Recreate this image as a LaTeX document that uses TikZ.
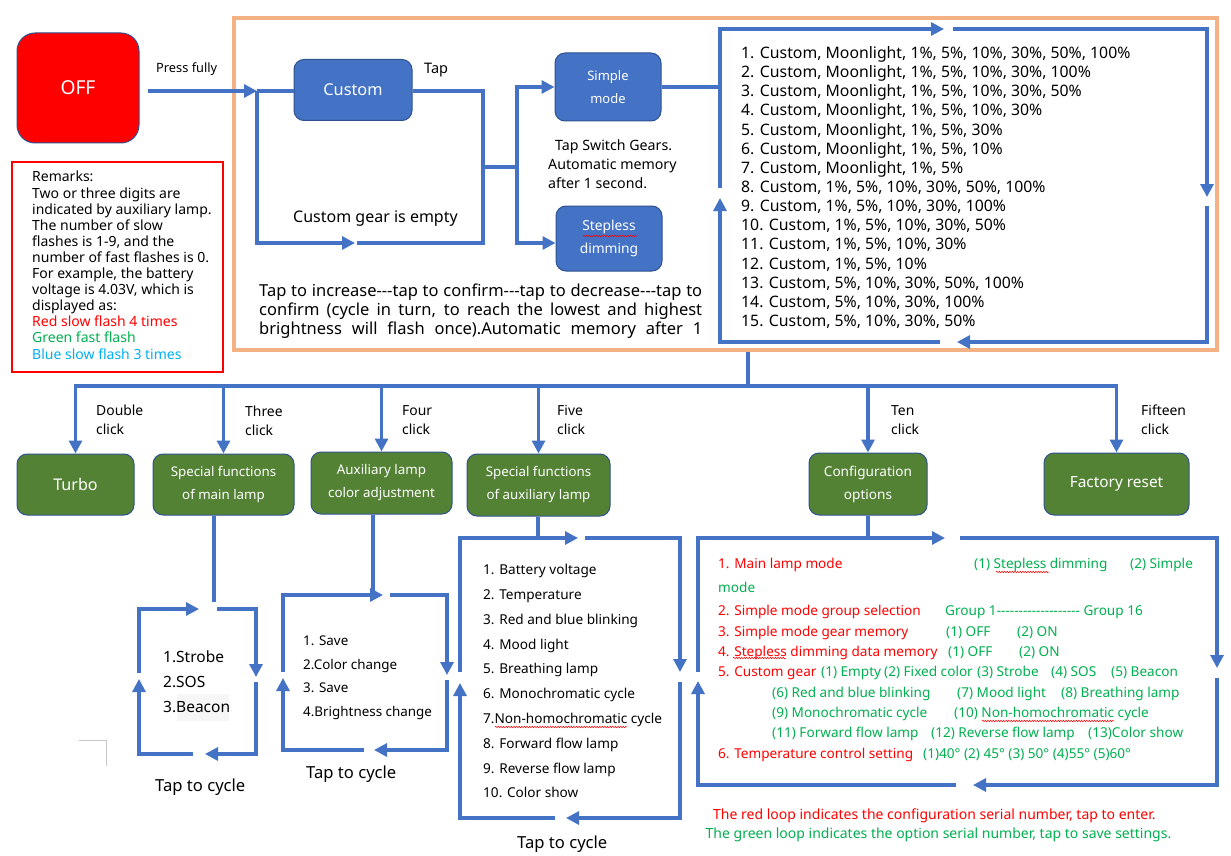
\documentclass[tikz,border=0pt]{standalone}
\usepackage{fontspec}
\setmainfont{Noto Sans}
\usetikzlibrary{arrows.meta,decorations.pathmorphing}
\definecolor{lb}{HTML}{4472C4}
\definecolor{bb}{HTML}{2F528F}
\definecolor{gf}{HTML}{548235}
\definecolor{org}{HTML}{F4B183}
\definecolor{tg}{HTML}{00B050}
\definecolor{tb}{HTML}{00B0F0}
\definecolor{rd}{HTML}{FF0000}
\newcommand{\fsz}[2]{\fontsize{#1}{#2}\selectfont}
\begin{document}
\begin{tikzpicture}[x=1pt,y=-1pt,
 ln/.style={draw=lb,line width=3.1pt},
 arr/.style={ln,-{Triangle[length=13pt,width=13pt]}},
 bluebox/.style={draw=bb,line width=1pt,fill=lb,rounded corners=10pt,text=white,align=center,inner sep=0pt},
 greenbox/.style={draw=bb,line width=1pt,fill=gf,rounded corners=10pt,text=white,align=center,inner sep=0pt},
 txt/.style={inner sep=0pt,anchor=base west,font=\fsz{#1}{#1},yshift={-0.35*#1pt}},
 wavy/.style={draw=rd,line width=0.5pt,decorate,decoration={snake,amplitude=0.8pt,segment length=2.6pt}}]
\useasboundingbox[fill=white] (0,0) rectangle (1231,856);

% ---------- top part ----------
\node[draw=bb,line width=1pt,fill=rd,rounded corners=18pt,minimum width=122pt,minimum height=110pt,text=white,font=\fsz{19.2}{23},inner sep=0pt] (off) at (78,88) {OFF};
\node[txt=12.8] (pf) at (156,68) {Press fully};
\node[draw=org,line width=3.4pt,minimum width=983pt,minimum height=332pt,inner sep=0pt] (frame) at (725.5,184) {};
\node[draw=rd,line width=2.6pt,minimum width=211pt,minimum height=210pt,inner sep=0pt] (rem) at (117.5,267) {};
\node[txt=14] (r0) at (32,177) {Remarks:};
\node[txt=14] (r1) at (32,193.1) {Two or three digits are};
\node[txt=14] (r2) at (32,209.2) {indicated by auxiliary lamp.};
\node[txt=14] (r3) at (32,225.3) {The number of slow};
\node[txt=14] (r4) at (32,241.4) {flashes is 1-9, and the};
\node[txt=14] (r5) at (32,257.5) {number of fast flashes is 0.};
\node[txt=14] (r6) at (32,273.6) {For example, the battery};
\node[txt=14] (r7) at (32,289.7) {voltage is 4.03V, which is};
\node[txt=14] (r8) at (32,305.8) {displayed as:};
\node[txt=14,text=rd] (r9) at (32,321.9) {Red slow flash 4 times};
\node[txt=14,text=tg] (r10) at (32,338) {Green fast flash};
\node[txt=14,text=tb] (r11) at (32,354.1) {Blue slow flash 3 times};

\node[bluebox,minimum width=118pt,minimum height=61pt,font=\fsz{16.3}{19}] (custom) at (353,90) {Custom};
\node[txt=14.5] (tap) at (424,68) {Tap};
\node[bluebox,minimum width=106pt,minimum height=68pt,font=\fsz{13}{23}] (simple) at (608,87) {Simple\\mode};
\node[bluebox,minimum width=106pt,minimum height=65pt,font=\fsz{13.8}{23}] (stepless) at (609,238.5) {Stepless\\dimming};
\draw[wavy] (583,236) -- (637,236);
\node[txt=14.2] (g1) at (555,146) {Tap Switch Gears.};
\node[txt=14.2] (g2) at (548,165) {Automatic memory};
\node[txt=14.2] (g3) at (548,184) {after 1 second.};
\node[txt=16] (empty) at (293,217) {Custom gear is empty};
\node[txt=16.5] (p1) at (259,291) {\makebox[443pt][s]{Tap to increase-{}-{}-tap to confirm-{}-{}-tap to decrease-{}-{}-tap to}};
\node[txt=16.5] (p2) at (259,310) {\makebox[443pt][s]{confirm (cycle in turn, to reach the lowest and highest}};
\node[txt=16.5] (p3) at (259,329) {\makebox[443pt][s]{brightness will flash once).Automatic memory after 1}};

\coordinate (j0) at (257,91);
\draw[arr] ([xshift=8pt]off.east |- j0) -- (j0);
\draw[ln] (j0) -- (custom.west |- j0);
\coordinate (cr) at (483,91);
\coordinate (cb) at (483,243);
\coordinate (lb0) at (257,243);
\draw[ln] (custom.east |- cr) -- (cr) -- (cb) -- (357,243);
\draw[arr] (j0) -- (lb0) -- (355,243);
\coordinate (jm) at (483,167);
\coordinate (jv) at (517,167);
\draw[ln] (jm) -- (jv);
\draw[arr] (jv) |- (simple.west);
\draw[arr] (jv) |- ([yshift=-4.5pt]stepless.west);

% list loop
\coordinate (ll) at (720,87);
\draw[ln] (simple.east) -- (ll);
\draw[arr] (720,188) -- (720,29) -- (944,29);
\draw[arr] (953,29) -- (1207,29) -- (1207,197);
\draw[arr] (1207,206) -- (1207,342) -- (957,342);
\draw[arr] (940,342) -- (720,342) -- (720,198);
\foreach \t [count=\i from 0] in {
 {1. Custom, Moonlight, 1\%, 5\%, 10\%, 30\%, 50\%, 100\%},
 {2. Custom, Moonlight, 1\%, 5\%, 10\%, 30\%, 100\%},
 {3. Custom, Moonlight, 1\%, 5\%, 10\%, 30\%, 50\%},
 {4. Custom, Moonlight, 1\%, 5\%, 10\%, 30\%},
 {5. Custom, Moonlight, 1\%, 5\%, 30\%},
 {6. Custom, Moonlight, 1\%, 5\%, 10\%},
 {7. Custom, Moonlight, 1\%, 5\%},
 {8. Custom, 1\%, 5\%, 10\%, 30\%, 50\%, 100\%},
 {9. Custom, 1\%, 5\%, 10\%, 30\%, 100\%},
 {10. Custom, 1\%, 5\%, 10\%, 30\%, 50\%},
 {11. Custom, 1\%, 5\%, 10\%, 30\%},
 {12. Custom, 1\%, 5\%, 10\%},
 {13. Custom, 5\%, 10\%, 30\%, 50\%, 100\%},
 {14. Custom, 5\%, 10\%, 30\%, 100\%},
 {15. Custom, 5\%, 10\%, 30\%, 50\%}}
 \node[txt=15.8] (li\i) at (741,{53+19.14*\i}) {\t};

% ---------- bus ----------
\node[greenbox,minimum width=117pt,minimum height=61pt,font=\fsz{16.1}{19}] (turbo) at (75.5,484.5) {Turbo};
\node[greenbox,minimum width=141pt,minimum height=61pt,font=\fsz{13.3}{23}] (smain) at (223.5,484.5) {Special functions\\of main lamp};
\node[greenbox,minimum width=141pt,minimum height=62pt,font=\fsz{13.35}{23}] (auxc) at (381.5,483) {Auxiliary lamp\\color adjustment};
\node[greenbox,minimum width=143pt,minimum height=62pt,font=\fsz{13.3}{23}] (auxs) at (538.5,485) {Special functions\\of auxiliary lamp};
\node[greenbox,minimum width=118pt,minimum height=62pt,font=\fsz{13.6}{23}] (conf) at (868,484) {Configuration\\options};
\node[greenbox,minimum width=145pt,minimum height=62pt,font=\fsz{15.4}{19}] (fact) at (1116.5,484) {Factory reset};

\coordinate (busm) at (748,386);
\draw[ln] (frame.south -| busm) -- (busm);
\draw[arr] (busm) -- (turbo.north |- busm) -- (turbo.north);
\draw[arr] (busm) -- (fact.north |- busm) -- (fact.north);
\draw[arr] (smain.north |- busm) -- (smain.north);
\draw[arr] (auxc.north |- busm) -- (auxc.north);
\draw[arr] (auxs.north |- busm) -- (auxs.north);
\draw[arr] (conf.north |- busm) -- (conf.north);

\node[txt=13.9] (k1a) at (96,411) {Double};
\node[txt=13.9] (k1b) at (96,430) {click};
\node[txt=13.9] (k2a) at (245,412) {Three};
\node[txt=13.9] (k2b) at (245,431) {click};
\node[txt=13.9] (k3a) at (402,411) {Four};
\node[txt=13.9] (k3b) at (402,430) {click};
\node[txt=13.9] (k4a) at (557,411) {Five};
\node[txt=13.9] (k4b) at (557,430) {click};
\node[txt=13.9] (k5a) at (891,411) {Ten};
\node[txt=13.9] (k5b) at (891,430) {click};
\node[txt=13.9] (k6a) at (1141,411) {Fifteen};
\node[txt=13.9] (k6b) at (1141,430) {click};

% ---------- loop 1 ----------
\coordinate (l1in) at (214,602);
\draw[ln] (smain.south -| l1in) -- (l1in);
\draw[arr] (139,673) -- (139,609) -- (199,609);
\draw[arr] (217,609) -- (256,609) -- (256,677);
\draw[arr] (256,682) -- (256,754) -- (205,754);
\draw[arr] (193,754) -- (139,754) -- (139,679);
\fill[gray!7] (177,694) rectangle (229,721);
\node[txt=15.5] (s1) at (163,657) {1.Strobe};
\node[txt=15.5] (s2) at (163,682) {2.SOS};
\node[txt=15.5] (s3) at (163,707) {3.Beacon};
\node[txt=16.6] (c1) at (155,786) {Tap to cycle};
\draw[gray!45,line width=0.8pt] (79,740) -- (106,740) -- (106,766);

% ---------- loop 2 ----------
\coordinate (l2in) at (373,595);
\draw[ln] (auxc.south -| l2in) -- (l2in);
\draw[arr] (283,672) -- (283,595) -- (383,595);
\draw[arr] (390,595) -- (447,595) -- (447,675);
\draw[arr] (447,680) -- (447,750) -- (374,750);
\draw[arr] (364,750) -- (283,750) -- (283,678);
\node[txt=13.4] (a1) at (303,641) {1. Save};
\node[txt=13.4] (a2) at (303,665) {2.Color change};
\node[txt=13.4] (a3) at (303,688) {3. Save};
\node[txt=13.4] (a4) at (303,712) {4.Brightness change};
\node[txt=16.6] (c2) at (306,773) {Tap to cycle};

% ---------- loop 3 ----------
\coordinate (l3in) at (538,538);
\draw[ln] (auxs.south -| l3in) -- (l3in);
\draw[arr] (460,672) -- (460,538) -- (578,538);
\draw[arr] (585,538) -- (680,538) -- (680,672);
\draw[arr] (680,682) -- (680,818) -- (566,818);
\draw[arr] (555,818) -- (460,818) -- (460,683);
\foreach \t [count=\i from 0] in {1. Battery voltage, 2. Temperature, 3. Red and blue blinking, 4. Mood light, 5. Breathing lamp, 6. Monochromatic cycle, 7.Non-homochromatic cycle, 8. Forward flow lamp, 9. Reverse flow lamp, 10. Color show}
 \node[txt=13.6] (b\i) at (483,{570+24.8*\i}) {\t};
\draw[wavy] (495,727) -- (627,727);
\node[txt=16.6] (c3) at (517,843) {Tap to cycle};

% ---------- loop 4 ----------
\coordinate (l4in) at (868,538);
\draw[ln] (conf.south -| l4in) -- (l4in);
\draw[arr] (698,672) -- (698,538) -- (945,538);
\draw[arr] (960,538) -- (1217,538) -- (1217,668);
\draw[arr] (1217,678) -- (1217,785) -- (973,785);
\draw[arr] (956,785) -- (698,785) -- (698,681);

\node[txt=13.6,text=rd] (o1) at (718,564) {1. Main lamp mode};
\node[txt=13.6,text=tg] (o1a) at (974,564) {(1) Stepless dimming};
\node[txt=13.6,text=tg] (o1b) at (1130,564) {(2) Simple};
\node[txt=13.6,text=tg] (o1c) at (718,588) {mode};
\node[txt=13.6,text=rd] (o2) at (718,611) {2. Simple mode group selection};
\node[txt=13.6,text=tg] (o2a) at (945,611) {Group 1-{}-{}-{}-{}-{}-{}-{}-{}-{}-{}-{}-{}-{}-{}-{}-{}-{}-{}- Group 16};
\node[txt=13.6,text=rd] (o3) at (718,632) {3. Simple mode gear memory};
\node[txt=13.6,text=tg] (o3a) at (946,632) {(1) OFF};
\node[txt=13.6,text=tg] (o3b) at (1017,632) {(2) ON};
\node[txt=13.6,text=rd] (o4) at (718,652) {4. Stepless dimming data memory};
\node[txt=13.6,text=tg] (o4a) at (948,652) {(1) OFF};
\node[txt=13.6,text=tg] (o4b) at (1019,652) {(2) ON};
\node[txt=13.6,text=rd] (o5) at (718,672) {5. Custom gear};
\node[txt=13.6,text=tg] (o5a) at (821,672) {(1) Empty};
\node[txt=13.6,text=tg] (o5b) at (884,672) {(2) Fixed color};
\node[txt=13.6,text=tg] (o5c) at (977,672) {(3) Strobe};
\node[txt=13.6,text=tg] (o5d) at (1051,672) {(4) SOS};
\node[txt=13.6,text=tg] (o5e) at (1111,672) {(5) Beacon};
\node[txt=13.6,text=tg] (o6a) at (772,693) {(6) Red and blue blinking};
\node[txt=13.6,text=tg] (o6b) at (957,693) {(7) Mood light};
\node[txt=13.6,text=tg] (o6c) at (1061,693) {(8) Breathing lamp};
\node[txt=13.6,text=tg] (o7a) at (772,713) {(9) Monochromatic cycle};
\node[txt=13.6,text=tg] (o7b) at (954,713) {(10) Non-homochromatic cycle};
\node[txt=13.6,text=tg] (o8a) at (772,733) {(11) Forward flow lamp};
\node[txt=13.6,text=tg] (o8b) at (931,733) {(12) Reverse flow lamp};
\node[txt=13.6,text=tg] (o8c) at (1088,733) {(13)Color show};
\node[txt=13.6,text=rd] (o9) at (718,754) {6. Temperature control setting};
\node[txt=13.6,text=tg] (o9a) at (923,754) {(1)40° (2) 45° (3) 50° (4)55° (5)60°};
\draw[wavy] (996,572) -- (1049,572);
\draw[wavy] (733,658) -- (786,658);
\draw[wavy] (982,721) -- (1114,721);

\node[txt=14,text=rd] (n1) at (713,815) {The red loop indicates the configuration serial number, tap to enter.};
\node[txt=14,text=tg] (n2) at (705.5,834) {The green loop indicates the option serial number, tap to save settings.};
\end{tikzpicture}
\end{document}
